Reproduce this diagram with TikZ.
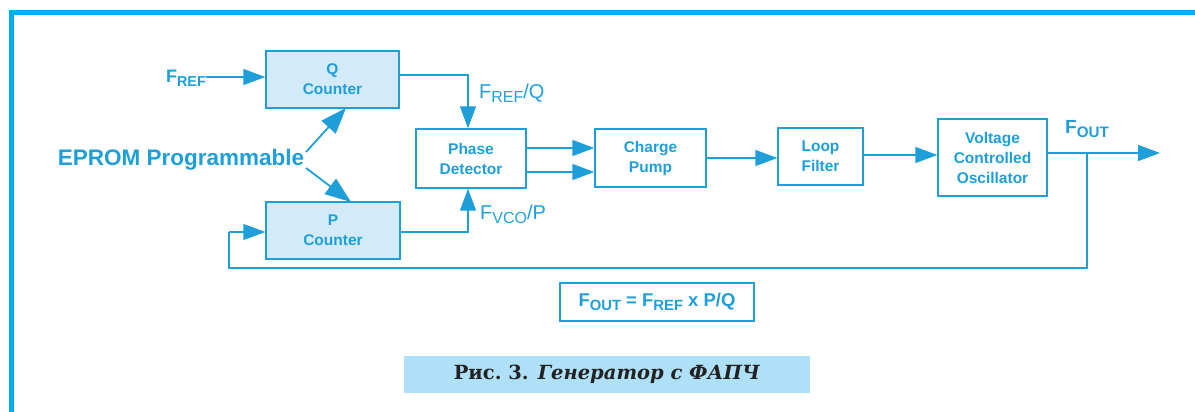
\documentclass[tikz,border=0pt]{standalone}
\usepackage{fontspec}
\setmainfont{Liberation Sans}
\newfontfamily\capfont{DejaVu Serif}
\usetikzlibrary{arrows.meta,calc}
\definecolor{ln}{HTML}{1E9FDA}
\definecolor{frm}{HTML}{00AEEF}
\definecolor{boxfill}{HTML}{D3EAF8}
\definecolor{capfill}{HTML}{AEE0F8}
\definecolor{captxt}{HTML}{222222}
\newcommand\sbs[1]{\raisebox{-0.4ex}{\fontsize{0.8em}{1em}\selectfont #1}}
\tikzset{
  blk/.style={draw=ln, line width=1.4pt, text=ln, align=center,
    font=\fontsize{15.5}{20}\selectfont\bfseries, inner sep=0pt},
  qp/.style={blk, fill=boxfill},
  arr/.style={draw=ln, line width=1.4pt, -{Triangle[length=22pt,width=16pt]}},
  barr/.style={draw=ln, line width=1.8pt, -{Triangle[length=26pt,width=19pt]}},
  wire/.style={draw=ln, line width=1.4pt},
  lbl/.style={text=ln, inner sep=0pt}
}
\begin{document}
\begin{tikzpicture}[x=1pt,y=-1pt]
\useasboundingbox (0,0) rectangle (1195,412);
% frame
\draw[frm, line width=5pt] (11,412) -- (11,12.5) -- (1195,12.5);
% blocks
\node[qp, minimum width=133pt, minimum height=57pt] (q) at (332.5,79.5) {Q\\Counter};
\node[qp, minimum width=134pt, minimum height=57pt] (p) at (333,230.5) {P\\Counter};
\node[blk, minimum width=110pt, minimum height=59pt] (pd) at (471,158.5) {Phase\\Detector};
\node[blk, minimum width=111pt, minimum height=58pt] (cp) at (650.5,158) {Charge\\Pump};
\node[blk, minimum width=85pt, minimum height=57pt] (lf) at (820.5,156.5) {Loop\\Filter};
\node[blk, minimum width=109pt, minimum height=77pt] (vco) at (992.5,157.5) {Voltage\\Controlled\\Oscillator};
% labels
\node[lbl, font=\fontsize{18}{20}\selectfont\bfseries, anchor=east] (fref) at (206,78) {F\sbs{REF}};
\node[lbl, font=\fontsize{22.5}{26}\selectfont\bfseries] (eprom) at (181,160) {EPROM Programmable};
\node[lbl, font=\fontsize{20}{22}\selectfont, anchor=west] (frefq) at (479,93) {F\sbs{REF}/Q};
\node[lbl, font=\fontsize{20}{22}\selectfont, anchor=west] (fvco) at (480,214) {F\sbs{VCO}/P};
\node[lbl, font=\fontsize{19}{22}\selectfont\bfseries, anchor=west] (fout) at (1065,129) {F\sbs{OUT}};
\node[blk, font=\fontsize{18.5}{20}\selectfont\bfseries, minimum width=194pt, minimum height=38pt] (eq) at (657,302) {F\sbs{OUT} = F\sbs{REF} x P/Q};
\node[fill=capfill, minimum width=406pt, minimum height=37pt, inner sep=0pt, text=captxt,
  font=\capfont\fontsize{19.5}{22}\selectfont\bfseries] (cap) at (607,374.5) {Рис.~3. \textit{Генератор с ФАПЧ}};
% coordinates
\coordinate (e1) at (306,152);
\coordinate (e2) at (306,168);
\coordinate (qin) at (346,108);
\coordinate (pin) at (351,202);
\coordinate (br) at (1087,153);
\coordinate (outend) at (1160,153);
\coordinate (fb1) at (1087,268);
\coordinate (fb2) at (229,268);
\coordinate (fb3) at (229,232);
% connectors
\draw[arr] (fref.east |- 0,77) -- (q.west |- 0,77);
\draw[barr] (e1) -- (qin);
\draw[barr] (e2) -- (pin);
\draw[arr] (q.east |- 0,75) -| ($(pd.north)+(-3,0)$);
\draw[arr] (p.east |- 0,232) -| ($(pd.south)+(-3,0)$);
\draw[arr] (pd.east |- 0,148) -- (cp.west |- 0,148);
\draw[arr] (pd.east |- 0,172) -- (cp.west |- 0,172);
\draw[arr] (cp.east |- 0,158) -- (lf.west |- 0,158);
\draw[arr] (lf.east |- 0,155) -- (vco.west |- 0,155);
\draw[arr] (vco.east |- br) -- (outend);
\draw[wire] (br) -- (fb1) -- (fb2) -- (fb3);
\draw[arr] (fb3) -- (p.west |- fb3);
\end{tikzpicture}
\end{document}
